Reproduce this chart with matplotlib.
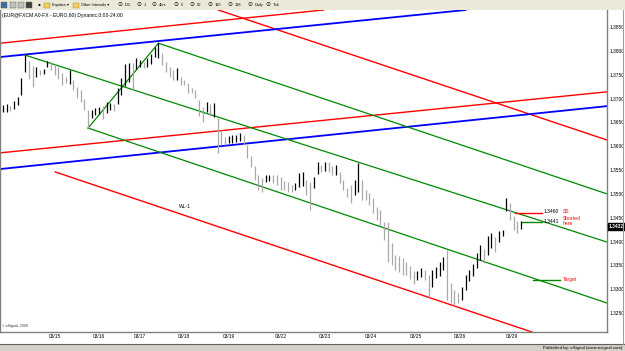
import matplotlib
matplotlib.use("Agg")
import matplotlib.pyplot as plt
import matplotlib.patches as patches
import numpy as np

plt.rcParams['font.family'] = ['Liberation Sans', 'DejaVu Sans']

# EUR/USD, 2-hour bars (high / low)
highs = [1.3686, 1.3688, 1.3684, 1.3695, 1.3703, 1.3743, 1.3791, 1.3779, 1.3768, 1.3766,
         1.3760, 1.3762, 1.3779, 1.3777, 1.3772, 1.3766, 1.3753, 1.3745, 1.3760, 1.3739,
         1.3724, 1.3718, 1.3699, 1.3676, 1.3676, 1.3680, 1.3682, 1.3684, 1.3693, 1.3691,
         1.3688, 1.3722, 1.3743, 1.3772, 1.3774, 1.3774, 1.3785, 1.3781, 1.3777, 1.3785,
         1.3793, 1.3808, 1.3816, 1.3795, 1.3777, 1.3766, 1.3760, 1.3764, 1.3745, 1.3739,
         1.3732, 1.3722, 1.3718, 1.3697, 1.3682, 1.3693, 1.3688, 1.3691, 1.3659, 1.3634,
         1.3619, 1.3621, 1.3623, 1.3623, 1.3628, 1.3623, 1.3602, 1.3579, 1.3558, 1.3539,
         1.3533, 1.3539, 1.3539, 1.3539, 1.3539, 1.3535, 1.3527, 1.3525, 1.3518, 1.3523,
         1.3544, 1.3546, 1.3529, 1.3525, 1.3535, 1.3567, 1.3560, 1.3567, 1.3567, 1.3558,
         1.3560, 1.3546, 1.3529, 1.3512, 1.3518, 1.3529, 1.3565, 1.3529, 1.3508, 1.3502,
         1.3491, 1.3472, 1.3466, 1.3441, 1.3441, 1.3397, 1.3372, 1.3370, 1.3365, 1.3357,
         1.3349, 1.3338, 1.3338, 1.3344, 1.3340, 1.3330, 1.3340, 1.3346, 1.3357, 1.3367,
         1.3382, 1.3313, 1.3298, 1.3292, 1.3305, 1.3330, 1.3340, 1.3353, 1.3376, 1.3393,
         1.3384, 1.3412, 1.3418, 1.3409, 1.3422, 1.3424, 1.3491, 1.3481, 1.3454, 1.3443,
         1.3443]
lows = [1.3672, 1.3672, 1.3674, 1.3678, 1.3686, 1.3707, 1.3756, 1.3741, 1.3724, 1.3745,
        1.3749, 1.3751, 1.3766, 1.3760, 1.3749, 1.3741, 1.3728, 1.3732, 1.3730, 1.3718,
        1.3701, 1.3693, 1.3676, 1.3638, 1.3659, 1.3665, 1.3667, 1.3657, 1.3670, 1.3676,
        1.3674, 1.3688, 1.3707, 1.3726, 1.3735, 1.3718, 1.3762, 1.3766, 1.3764, 1.3766,
        1.3772, 1.3787, 1.3785, 1.3770, 1.3756, 1.3745, 1.3739, 1.3739, 1.3728, 1.3728,
        1.3711, 1.3711, 1.3701, 1.3663, 1.3651, 1.3672, 1.3663, 1.3661, 1.3586, 1.3602,
        1.3602, 1.3607, 1.3607, 1.3609, 1.3611, 1.3602, 1.3575, 1.3556, 1.3529, 1.3508,
        1.3504, 1.3525, 1.3527, 1.3523, 1.3518, 1.3508, 1.3508, 1.3504, 1.3504, 1.3508,
        1.3514, 1.3516, 1.3497, 1.3466, 1.3512, 1.3542, 1.3546, 1.3548, 1.3546, 1.3539,
        1.3539, 1.3523, 1.3508, 1.3493, 1.3481, 1.3497, 1.3504, 1.3487, 1.3487, 1.3477,
        1.3460, 1.3445, 1.3435, 1.3403, 1.3357, 1.3351, 1.3340, 1.3336, 1.3330, 1.3330,
        1.3321, 1.3311, 1.3319, 1.3326, 1.3319, 1.3284, 1.3305, 1.3323, 1.3328, 1.3340,
        1.3277, 1.3271, 1.3267, 1.3271, 1.3277, 1.3298, 1.3317, 1.3328, 1.3344, 1.3361,
        1.3355, 1.3372, 1.3386, 1.3378, 1.3399, 1.3412, 1.3464, 1.3445, 1.3424, 1.3418,
        1.3426]
last_price = 1.3432

day_labels = ['03/15', '03/16', '03/17', '03/18', '03/19', '03/22',
              '03/23', '03/24', '03/25', '03/26', '03/29']
day_bars = [14, 26, 37, 49, 61, 75, 87, 99.5, 111.5, 123.5, 137.5]

price_ticks = np.arange(1.3250, 1.38501, 0.005)

# trend lines as (bar, price) anchor pairs
red_top = [(-0.8, 1.3816), (87.0, 1.3886)]
blue_top = [(-0.8, 1.3787), (125.4, 1.3886)]
red_mid = [(-0.8, 1.3586), (163.2, 1.3714)]
blue_mid = [(-0.8, 1.3552), (163.2, 1.3684)]
red_fall = [(57.3, 1.3888), (163.2, 1.3613)]
red_low = [(14.1, 1.3546), (143.0, 1.3210)]
# pitchfork: pivots on bars 6 (high), 23 (low), 42 (high)
fork_ends = [1.3399, 1.3271, 1.3500]  # median, lower, upper at right edge
right_bar = 163.2

ss_level = 1.3460
entry_level = 1.3441
target_level = 1.3320

W, H = 625, 351
fig = plt.figure(figsize=(W / 100, H / 100), dpi=100)
fig.patch.set_facecolor('white')

ax = fig.add_axes([0, (H - 332) / H, 607 / W, 322 / H])
ax.set_xlim(-0.81, 163.24)
ax.set_ylim(1.32102, 1.38857)

x = np.arange(len(highs))
mid = (np.array(highs) + np.array(lows)) / 2
cols = ['#000000'] + ['#a8a8a8' if mid[i] < mid[i - 1] else '#000000' for i in range(1, len(mid))]
ax.vlines(x, lows, highs, colors=cols, lw=0.9, zorder=3)

ax.axline(*red_top, color='#ff0000', lw=1.0)
ax.axline(*red_fall, color='#ff0000', lw=1.0)
ax.axline(*red_mid, color='#ff0000', lw=1.0)
ax.axline(*blue_top, color='#0000ff', lw=1.3)
ax.axline(*blue_mid, color='#0000ff', lw=1.3)
ax.plot([red_low[0][0], red_low[1][0]], [red_low[0][1], red_low[1][1]], color='#ff0000', lw=1.0)

g = '#008800'
a = (6, highs[6])
b = (23, lows[23])
c = (42, highs[42])
ax.plot([b[0], c[0]], [b[1], c[1]], color=g, lw=0.9)
ax.plot([a[0], right_bar], [a[1], fork_ends[0]], color=g, lw=0.9)
ax.plot([b[0], right_bar], [b[1], fork_ends[1]], color=g, lw=0.9)
ax.plot([c[0], right_bar], [c[1], fork_ends[2]], color=g, lw=0.9)

# trade notes
ax.plot([138.4, 145.7], [ss_level, ss_level], color='#ff0000', lw=1.0)
ax.plot([140.3, 145.7], [entry_level, entry_level], color=g, lw=1.0)
ax.plot([143.2, 150.5], [target_level, target_level], color=g, lw=1.0)
fs = 3.6
ax.text(146.2, ss_level + 0.0003, '%.4f' % ss_level, fontsize=fs, va='center', ha='left')
ax.text(151.2, ss_level + 0.0004, 'SS', fontsize=fs, color='#ff0000', va='center')
ax.text(146.2, entry_level, '%.4f' % entry_level, fontsize=fs, va='center', ha='left')
ax.text(151.2, entry_level + 0.0002, 'Shorted\nhere', fontsize=fs, color='#ff0000',
        va='center', linespacing=0.9)
ax.text(151.3, target_level, 'Target', fontsize=fs, color='#ff0000', va='center')
ax.text(49.3, 1.3474, 'WL-1', fontsize=fs, va='center', ha='center')

ax.text(0.003, 0.991, '(EUR@FXCM A0-FX - EURO,60) Dynamic,0:00-24:00', transform=ax.transAxes,
        fontsize=3.6, va='top', ha='left')
ax.text(0.003, 0.012, '\u00a9 eSignal, 2009', transform=ax.transAxes, fontsize=2.6,
        va='bottom', ha='left', color='#333333')

ax.yaxis.tick_right()
ax.set_yticks(price_ticks)
ax.set_yticklabels(['%.4f' % v for v in price_ticks])
ax.set_xticks(day_bars)
ax.set_xticklabels(day_labels)
ax.tick_params(axis='both', length=0, labelsize=3.5, colors='#000000')
ax.tick_params(axis='y', pad=1.8)
ax.tick_params(axis='x', pad=1.2)
ax.text(1.003, last_price, '%.4f' % last_price, transform=ax.get_yaxis_transform(),
        fontsize=3.5, color='white', va='center', ha='left', fontweight='bold',
        bbox=dict(boxstyle='square,pad=0.15', fc='black', ec='black'))
for s in ['left', 'right', 'bottom']:
    ax.spines[s].set_color('#808080')
    ax.spines[s].set_linewidth(1.0)
ax.spines['top'].set_visible(False)

# window chrome: toolbar, footer
fig.add_artist(patches.Rectangle((0, 1 - 10 / H), 1, 10 / H, transform=fig.transFigure,
                                 fc='#ece9d8', ec='none'))
fig.add_artist(patches.Rectangle((0, 0), 1, 7 / H, transform=fig.transFigure,
                                 fc='#d4d0c8', ec='none'))
fig.add_artist(plt.Line2D([0, 1], [7.5 / H, 7.5 / H], transform=fig.transFigure,
                          color='#606060', lw=0.8))
fig.add_artist(plt.Line2D([623 / W, 623 / W], [7.5 / H, 1 - 10 / H], transform=fig.transFigure,
                          color='#a0a0a0', lw=0.8))
fig.text(622 / W, 3.5 / H, 'Published by: eSignal (www.esignal.com)', fontsize=3.2,
         ha='right', va='center')

tb_y = 1 - 5 / H
tb_fs = 2.8
for px, colr in [(4, '#3a6ea5'), (13, '#c0c0c0'), (21, '#c0c0c0'), (29, '#404040')]:
    fig.add_artist(patches.Rectangle(((px - 3) / W, tb_y - 3 / H), 6 / W, 6 / H,
                                     transform=fig.transFigure, fc=colr, ec='#606060', lw=0.3))
fig.text(39 / W, tb_y, '\u25cf', fontsize=3.5, ha='center', va='center')
for px, label in [(47, 'Equities \u25be'), (76, 'Other Intervals \u25be')]:
    fig.add_artist(patches.Rectangle(((px - 3) / W, tb_y - 2.5 / H), 6 / W, 5 / H,
                                     transform=fig.transFigure, fc='#f0d060', ec='#a08020', lw=0.3))
    fig.text((px + 5) / W, tb_y, label, fontsize=tb_fs, ha='left', va='center')
for px, label in [(120, 'IDC'), (139, '1'), (154, '4hrs'), (176, '5'), (192, '60'),
                  (210, '120'), (230, '128'), (250, 'Daily'), (268, 'Tick')]:
    fig.text(px / W, tb_y, '\u2299', fontsize=4.2, ha='center', va='center')
    fig.text((px + 4.5) / W, tb_y, label, fontsize=tb_fs, ha='left', va='center')

fig.savefig('out.png', dpi=100)
